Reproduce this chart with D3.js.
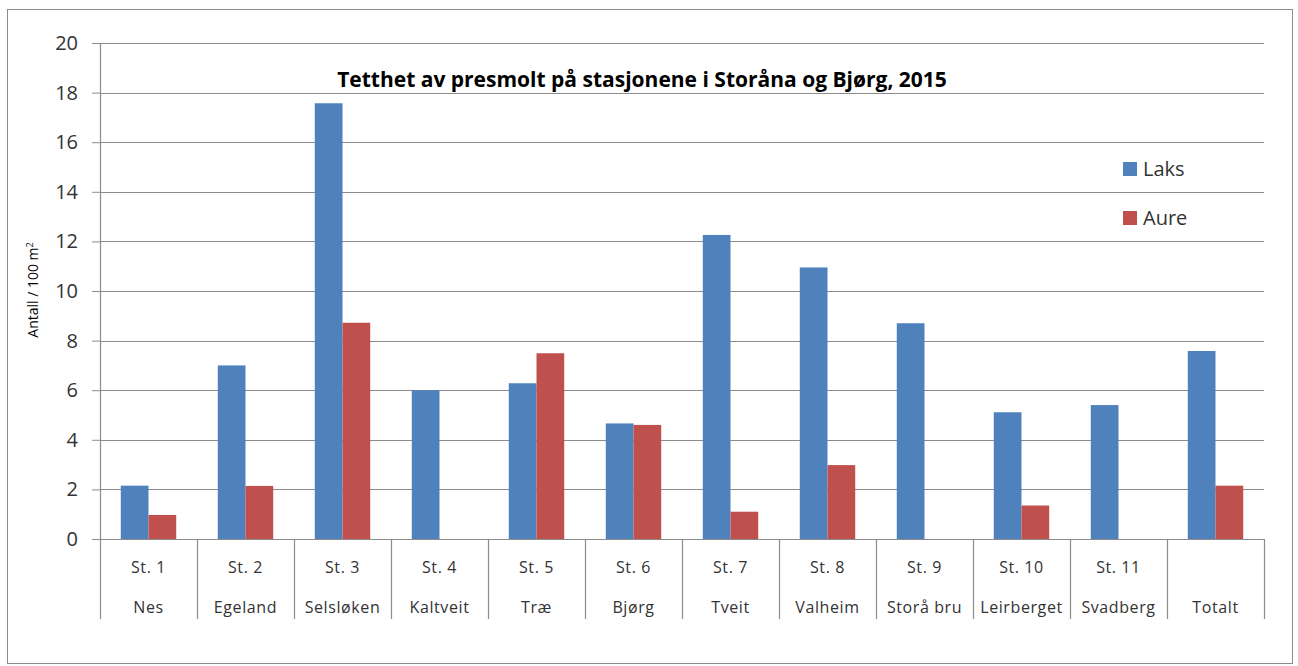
<!DOCTYPE html>
<html>
<head>
<meta charset="utf-8">
<title>Tetthet av presmolt</title>
<script src="https://d3js.org/d3.v7.min.js"></script>
<style>
  body { margin: 0; background: #fff; }
  svg text { font-family: "Open Sans", "Noto Sans", sans-serif; fill: #333; }
</style>
</head>
<body>
<svg id="chart" width="1298" height="666"></svg>
<script>
// data
var stations = ["St. 1", "St. 2", "St. 3", "St. 4", "St. 5", "St. 6", "St. 7", "St. 8", "St. 9", "St. 10", "St. 11", ""];
var places = ["Nes", "Egeland", "Selsløken", "Kaltveit", "Træ", "Bjørg", "Tveit", "Valheim", "Storå bru", "Leirberget", "Svadberg", "Totalt"];
var laks = [2.15, 7.0, 17.57, 6.0, 6.28, 4.66, 12.26, 10.95, 8.7, 5.11, 5.4, 7.58];
var aure = [0.97, 2.14, 8.72, 0, 7.49, 4.6, 1.1, 2.98, 0, 1.35, 0, 2.15];
var seriesNames = ["Laks", "Aure"];
var colors = ["#4F81BD", "#C0504D"];
var yTicks = [0, 2, 4, 6, 8, 10, 12, 14, 16, 18, 20];

var svg = d3.select("#chart");
var plotL = 100, plotR = 1264, plotT = 43, plotB = 539;

// outer frame
svg.append("rect")
  .attr("x", 7.5).attr("y", 9.5)
  .attr("width", 1285).attr("height", 654)
  .attr("fill", "#fff").attr("stroke", "#8c8c8c").attr("stroke-width", 1);

var x = d3.scaleBand().domain(d3.range(places.length)).range([plotL, plotR]);
// gap width 150% -> 0.75 bar width each side
var inner = d3.scaleBand().domain(seriesNames).range([0, x.bandwidth()]).paddingOuter(0.75);
var y = d3.scaleLinear().domain([0, 20]).range([plotB, plotT]);

//---------- grid + y axis ----------
var yAxis = svg.append("g")
  .attr("transform", "translate(" + plotL + ",0)")
  .call(d3.axisLeft(y).tickValues(yTicks).tickSize(8).tickPadding(14).tickFormat(d3.format("d")));
yAxis.select(".domain").remove();
yAxis.selectAll("line").attr("stroke", "#8c8c8c");
yAxis.selectAll("text").attr("font-size", "20px").style("fill", "#333");

svg.append("g").selectAll("line")
  .data(yTicks)
  .enter().append("line")
    .attr("x1", plotL).attr("x2", plotR)
    .attr("y1", function(d) { return Math.round(y(d)) + 0.5; })
    .attr("y2", function(d) { return Math.round(y(d)) + 0.5; })
    .attr("stroke", "#8c8c8c").attr("stroke-width", 1.2);

// vertical axis line
svg.append("line")
  .attr("x1", plotL + 0.5).attr("x2", plotL + 0.5)
  .attr("y1", plotT).attr("y2", plotB)
  .attr("stroke", "#8c8c8c").attr("stroke-width", 1.2);

//---------- bars ----------
var rows = places.map(function(p, i) { return { i: i, vals: [laks[i], aure[i]] }; });
var groups = svg.append("g").selectAll("g")
  .data(rows)
  .enter().append("g")
    .attr("transform", function(d) { return "translate(" + x(d.i) + ",0)"; });

groups.selectAll("rect")
  .data(function(d) { return d.vals.map(function(v, k) { return { v: v, k: k }; }); })
  .enter().append("rect")
    .attr("x", function(d) { return inner(seriesNames[d.k]); })
    .attr("width", inner.bandwidth())
    .attr("y", function(d) { return y(d.v); })
    .attr("height", function(d) { return y(0) - y(d.v); })
    .attr("fill", function(d) { return colors[d.k]; });

//---------- category axis (two levels) ----------
var cat = svg.append("g");
cat.selectAll("line.div")
  .data(d3.range(places.length + 1))
  .enter().append("line")
    .attr("class", "div")
    .attr("x1", function(d) { return Math.round(plotL + d * x.bandwidth()) + 0.5; })
    .attr("x2", function(d) { return Math.round(plotL + d * x.bandwidth()) + 0.5; })
    .attr("y1", plotB).attr("y2", 619)
    .attr("stroke", "#8c8c8c").attr("stroke-width", 1.2);

cat.selectAll("text.st")
  .data(stations)
  .enter().append("text")
    .attr("class", "st")
    .attr("x", function(d, i) { return x(i) + x.bandwidth() / 2; })
    .attr("y", 573)
    .attr("text-anchor", "middle")
    .attr("font-size", "16px")
    .attr("letter-spacing", "0.6px")
    .text(function(d) { return d; });

cat.selectAll("text.pl")
  .data(places)
  .enter().append("text")
    .attr("class", "pl")
    .attr("x", function(d, i) { return x(i) + x.bandwidth() / 2; })
    .attr("y", 613)
    .attr("text-anchor", "middle")
    .attr("font-size", "16px")
    .attr("letter-spacing", "0.6px")
    .text(function(d) { return d; });

//---------- titles ----------
svg.append("text")
  .attr("x", 642).attr("y", 87)
  .attr("text-anchor", "middle")
  .attr("font-size", "21px")
  .attr("font-weight", "bold")
  .style("fill", "#000")
  .text("Tetthet av presmolt på stasjonene i Storåna og Bjørg, 2015");

var yl = svg.append("text")
  .attr("transform", "translate(38,290) rotate(-90)")
  .attr("text-anchor", "middle")
  .attr("font-size", "14px")
  .style("fill", "#000");
yl.append("tspan").text("Antall / 100 m");
yl.append("tspan").attr("font-size", "9px").attr("dy", -5).text("2");

//---------- legend ----------
var legend = svg.append("g").selectAll("g")
  .data(seriesNames)
  .enter().append("g")
    .attr("transform", function(d, i) { return "translate(1123," + (169 + i * 49) + ")"; });
legend.append("rect")
  .attr("x", 0).attr("y", -7).attr("width", 14).attr("height", 14)
  .attr("fill", function(d, i) { return colors[i]; });
legend.append("text")
  .attr("x", 20).attr("y", 7)
  .attr("font-size", "20px")
  .text(function(d) { return d; });
</script>
</body>
</html>
